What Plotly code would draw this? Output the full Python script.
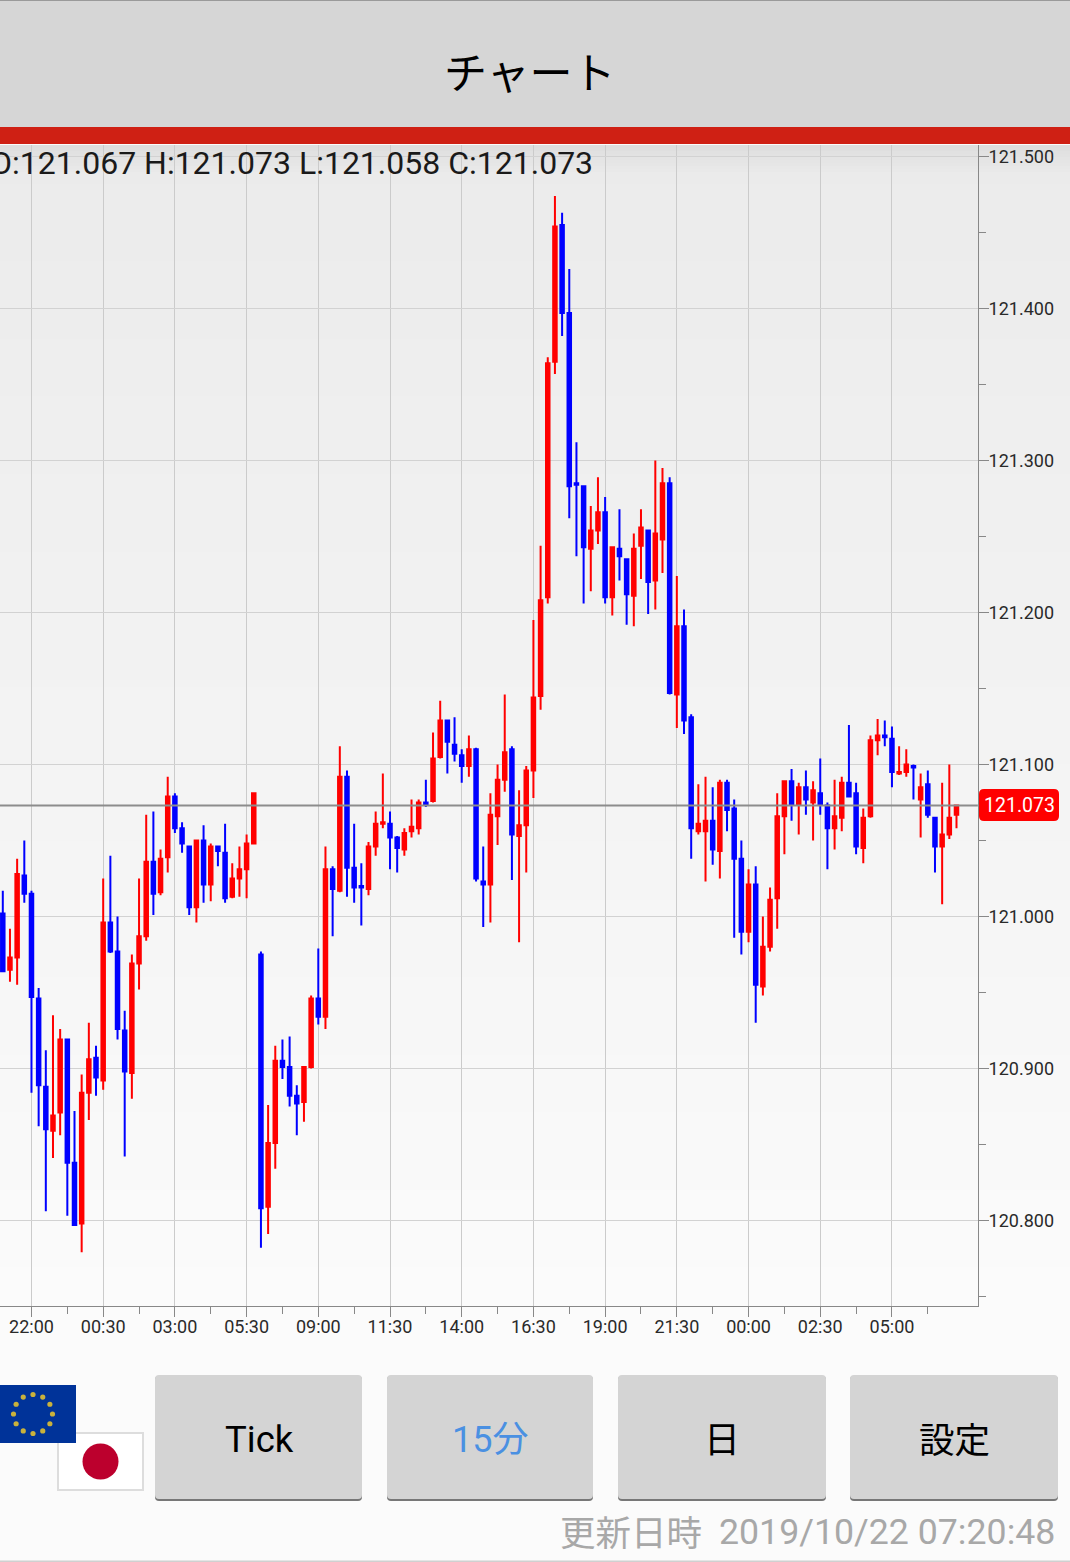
import math

import plotly.graph_objects as go

W = 1070
H = 1562
PLOT_RIGHT = 978
PLOT_TOP = 145
PLOT_BOTTOM = 1306

CJK = "Noto Sans CJK JP"
LATIN = "Roboto"

# 15 minute candles
opens = [
    121.002, 120.965, 120.973, 121.027, 121.015, 120.946, 120.888, 120.859, 120.871, 120.919,
    120.838, 120.798, 120.884, 120.907, 120.892, 120.996, 120.977, 120.925, 120.897, 120.969,
    120.987, 121.036, 121.016, 121.039, 121.079, 121.058, 121.046, 121.006, 121.050, 121.021,
    121.046, 121.042, 121.013, 121.025, 121.031, 121.048, 120.975, 120.809, 120.851, 120.905,
    120.901, 120.882, 120.878, 120.901, 120.946, 120.934, 121.031, 121.017, 121.092, 121.032,
    121.020, 121.018, 121.046, 121.061, 121.061, 121.052, 121.044, 121.056, 121.058, 121.075,
    121.076, 121.105, 121.129, 121.113, 121.106, 121.099, 121.110, 121.023, 121.021, 121.066,
    121.090, 121.110, 121.053, 121.060, 121.096, 121.145, 121.210, 121.365, 121.455, 121.397,
    121.285, 121.283, 121.242, 121.254, 121.266, 121.210, 121.242, 121.235, 121.211, 121.244,
    121.254, 121.221, 121.248, 121.285, 121.146, 121.191, 121.131, 121.056, 121.056, 121.063,
    121.043, 121.088, 121.071, 121.038, 120.990, 121.021, 120.954, 120.980, 121.012, 121.066,
    121.089, 121.074, 121.085, 121.075, 121.081, 121.073, 121.058, 121.065, 121.088, 121.081,
    121.045, 121.066, 121.116, 121.119, 121.117, 121.094, 121.095, 121.099, 121.077, 121.087,
    121.065, 121.046, 121.054, 121.067,
]
highs = [
    121.017, 120.992, 121.038, 121.050, 121.017, 120.953, 120.912, 120.935, 120.926, 120.919,
    120.872, 120.896, 120.930, 120.915, 121.025, 121.040, 121.000, 120.938, 120.975, 121.025,
    121.067, 121.069, 121.044, 121.092, 121.081, 121.062, 121.046, 121.050, 121.060, 121.048,
    121.046, 121.061, 121.035, 121.046, 121.054, 121.081, 120.977, 120.876, 120.915, 120.919,
    120.921, 120.889, 120.901, 120.948, 120.979, 121.046, 121.033, 121.112, 121.096, 121.061,
    121.035, 121.049, 121.069, 121.094, 121.069, 121.053, 121.058, 121.077, 121.077, 121.090,
    121.121, 121.142, 121.129, 121.131, 121.110, 121.119, 121.111, 121.046, 121.081, 121.100,
    121.146, 121.112, 121.083, 121.099, 121.195, 121.244, 121.368, 121.474, 121.463, 121.426,
    121.312, 121.283, 121.270, 121.289, 121.276, 121.243, 121.268, 121.235, 121.252, 121.268,
    121.254, 121.300, 121.295, 121.289, 121.224, 121.202, 121.133, 121.087, 121.092, 121.085,
    121.090, 121.090, 121.077, 121.050, 121.031, 121.033, 121.000, 121.019, 121.081, 121.089,
    121.097, 121.088, 121.096, 121.089, 121.104, 121.075, 121.090, 121.092, 121.126, 121.088,
    121.071, 121.119, 121.130, 121.129, 121.125, 121.112, 121.110, 121.100, 121.094, 121.096,
    121.065, 121.088, 121.100, 121.073,
]
lows = [
    120.964, 120.957, 120.955, 121.009, 120.884, 120.862, 120.806, 120.841, 120.856, 120.803,
    120.797, 120.779, 120.866, 120.882, 120.886, 120.976, 120.919, 120.842, 120.880, 120.952,
    120.984, 121.001, 121.014, 121.029, 121.055, 121.042, 121.001, 120.996, 121.009, 121.010,
    121.033, 121.009, 121.012, 121.013, 121.012, 121.048, 120.782, 120.791, 120.834, 120.893,
    120.875, 120.856, 120.865, 120.900, 120.929, 120.926, 120.987, 121.016, 121.013, 121.009,
    120.994, 121.014, 121.040, 121.058, 121.031, 121.029, 121.040, 121.052, 121.054, 121.072,
    121.075, 121.104, 121.094, 121.102, 121.088, 121.092, 121.023, 120.993, 120.996, 121.047,
    121.082, 121.024, 120.983, 121.029, 121.078, 121.136, 121.206, 121.357, 121.382, 121.262,
    121.237, 121.206, 121.214, 121.245, 121.206, 121.198, 121.221, 121.192, 121.191, 121.222,
    121.199, 121.202, 121.226, 121.146, 121.124, 121.120, 121.038, 121.054, 121.023, 121.034,
    121.025, 121.056, 120.986, 120.975, 120.983, 120.930, 120.948, 120.977, 120.992, 121.041,
    121.063, 121.054, 121.067, 121.050, 121.067, 121.031, 121.044, 121.056, 121.079, 121.041,
    121.035, 121.065, 121.106, 121.112, 121.085, 121.093, 121.092, 121.077, 121.052, 121.065,
    121.029, 121.008, 121.051, 121.058,
]
closes = [
    120.964, 120.973, 121.028, 121.015, 120.947, 120.889, 120.860, 120.869, 120.919, 120.838,
    120.797, 120.884, 120.906, 120.894, 120.996, 120.977, 120.926, 120.898, 120.969, 120.987,
    121.036, 121.015, 121.038, 121.079, 121.058, 121.048, 121.006, 121.050, 121.021, 121.046,
    121.043, 121.012, 121.025, 121.031, 121.048, 121.081, 120.808, 120.851, 120.905, 120.901,
    120.882, 120.877, 120.901, 120.946, 120.934, 121.031, 121.018, 121.092, 121.032, 121.019,
    121.019, 121.046, 121.061, 121.062, 121.052, 121.045, 121.055, 121.059, 121.075, 121.074,
    121.104, 121.129, 121.115, 121.107, 121.099, 121.110, 121.025, 121.021, 121.067, 121.090,
    121.108, 121.054, 121.060, 121.096, 121.144, 121.208, 121.364, 121.454, 121.397, 121.283,
    121.284, 121.243, 121.254, 121.266, 121.210, 121.243, 121.237, 121.212, 121.242, 121.256,
    121.220, 121.252, 121.285, 121.147, 121.191, 121.129, 121.058, 121.061, 121.063, 121.044,
    121.088, 121.070, 121.038, 120.990, 121.021, 120.955, 120.980, 121.011, 121.066, 121.089,
    121.074, 121.085, 121.077, 121.083, 121.074, 121.058, 121.066, 121.088, 121.079, 121.046,
    121.065, 121.116, 121.119, 121.118, 121.095, 121.095, 121.100, 121.098, 121.085, 121.067,
    121.046, 121.054, 121.065, 121.073,
]

time_ticks = [4, 14, 24, 34, 44, 54, 64, 74, 84, 94, 104, 114, 124]
time_labels = ["22:00", "00:30", "03:00", "05:30", "09:00", "11:30", "14:00",
               "16:30", "19:00", "21:30", "00:00", "02:30", "05:00"]
half_ticks = [9, 19, 29, 39, 49, 59, 69, 79, 89, 99, 109, 119, 129]

last_price = 121.073
ohlc_text = "O:121.067 H:121.073 L:121.058 C:121.073"


def px(x):
    return x / W


def py(y):
    return 1 - y / H


def rect(x0, y0, x1, y1, color, layer="above", line=None):
    return dict(type="rect", xref="paper", yref="paper", layer=layer,
                x0=px(x0), x1=px(x1), y0=py(y0), y1=py(y1),
                fillcolor=color, line=line or dict(width=0))


def round_rect(x0, y0, x1, y1, r, color):
    # rounded box as svg path, paper coords
    path = (
        f"M {px(x0 + r)} {py(y0)} L {px(x1 - r)} {py(y0)} Q {px(x1)} {py(y0)} {px(x1)} {py(y0 + r)} "
        f"L {px(x1)} {py(y1 - r)} Q {px(x1)} {py(y1)} {px(x1 - r)} {py(y1)} "
        f"L {px(x0 + r)} {py(y1)} Q {px(x0)} {py(y1)} {px(x0)} {py(y1 - r)} "
        f"L {px(x0)} {py(y0 + r)} Q {px(x0)} {py(y0)} {px(x0 + r)} {py(y0)} Z"
    )
    return dict(type="path", xref="paper", yref="paper", path=path,
                fillcolor=color, line=dict(width=0), layer="above")


def circle(cx, cy, r, color):
    return dict(type="circle", xref="paper", yref="paper", layer="above",
                x0=px(cx - r), x1=px(cx + r), y0=py(cy + r), y1=py(cy - r),
                fillcolor=color, line=dict(width=0))


def label(x, y, text, size, color="#000000", family=LATIN, anchor="center"):
    return dict(xref="paper", yref="paper", x=px(x), y=py(y), text=text, showarrow=False,
                xanchor=anchor, yanchor="middle", font=dict(size=size, color=color, family=family))


shapes = []

# page background gets lighter towards the bottom
top_shade = 235
bottom_shade = 251
steps = 60
for k in range(steps):
    y0 = PLOT_TOP + k * (PLOT_BOTTOM - PLOT_TOP) / steps
    y1 = y0 + (PLOT_BOTTOM - PLOT_TOP) / steps + 1
    c = round(top_shade + (bottom_shade - top_shade) * k / (steps - 1))
    shapes.append(rect(0, y0, W, y1, f"rgb({c},{c},{c})", layer="below"))

# shadow under the red bar
for k in range(10):
    c = round(222 + k * 1.4)
    shapes.append(rect(0, 145 + k * 3, W, 148 + k * 3, f"rgb({c},{c},{c})", layer="below"))

# header
shapes.append(rect(0, 0, W, 127, "#d6d6d6"))
shapes.append(rect(0, 0, W, 1, "#9a9a9a"))
shapes.append(rect(0, 127, W, 144, "#cf2014"))
shapes.append(rect(0, 1560.5, W, H, "#d0d0d0"))

# last price line and its red tag
shapes.append(dict(type="line", xref="x", yref="y", x0=-0.418, x1=135.98,
                   y0=last_price, y1=last_price, line=dict(color="#8c8c8c", width=2), layer="above"))
shapes.append(round_rect(979, 789, 1059, 821, 5, "#ff0000"))

# flags
shapes.append(rect(58, 1433, 143, 1490, "#ffffff", line=dict(color="#dddddd", width=2)))
shapes.append(circle(100.5, 1461.5, 18, "#bc002d"))
shapes.append(rect(0, 1385, 76, 1443, "#003399"))
for k in range(12):
    a = math.radians(k * 30)
    shapes.append(circle(33 + 19.5 * math.sin(a), 1414 - 19.5 * math.cos(a), 2.6, "#c9b23c"))

# buttons
buttons = [(155, 362), (387, 593), (618, 826), (850, 1058)]
for x0, x1 in buttons:
    shapes.append(round_rect(x0, 1376, x1, 1501, 4, "#777777"))
    shapes.append(round_rect(x0, 1375, x1, 1499, 4, "#d4d4d4"))

annotations = [
    label(529.5, 70, "チャート", 43, family=CJK),
    label(595, 163, ohlc_text, 32, color="#1a1a1a", anchor="right"),
    label(1019, 805, "121.073", 19.5, color="#ffffff"),
    label(259, 1439, "Tick", 36.5),
    label(489.5, 1440, "15分", 36, color="#4a90e2", family=f"{LATIN}, {CJK}"),
    label(722, 1437, "日", 36, family=CJK),
    label(954, 1437, "設定", 35.5, family=CJK),
    label(704, 1530, "更新日時", 35.5, color="#a8a8a8", family=CJK, anchor="right"),
    label(1057, 1532, "2019/10/22 07:20:48", 35.7, color="#a8a8a8", anchor="right"),
]

fig = go.Figure(
    go.Candlestick(
        x=list(range(len(opens))),
        open=opens,
        high=highs,
        low=lows,
        close=closes,
        increasing=dict(line=dict(color="#ff0000", width=2), fillcolor="#ff0000"),
        decreasing=dict(line=dict(color="#0000ff", width=2), fillcolor="#0000ff"),
        whiskerwidth=0,
        showlegend=False,
        hoverinfo="skip",
    )
)

fig.update_layout(
    width=W,
    height=H,
    margin=dict(l=0, r=0, t=0, b=0),
    paper_bgcolor="#fbfbfb",
    plot_bgcolor="rgba(0,0,0,0)",
    showlegend=False,
    shapes=shapes,
    annotations=annotations,
    font=dict(family=LATIN, color="#333333"),
    xaxis=dict(
        domain=[0, PLOT_RIGHT / W],
        range=[-0.39, 136.0],
        rangeslider=dict(visible=False),
        tickmode="array",
        tickvals=time_ticks,
        ticktext=time_labels,
        tickfont=dict(size=18, color="#2a2a2a"),
        ticks="outside",
        ticklen=10,
        tickcolor="#888888",
        tickwidth=1,
        ticklabelstandoff=-6,
        showgrid=True,
        gridcolor="#cbcbcb",
        gridwidth=1.2,
        showline=True,
        linecolor="#888888",
        linewidth=1,
        zeroline=False,
        minor=dict(tickmode="array", tickvals=half_ticks, ticks="outside", ticklen=7,
                   tickcolor="#888888", showgrid=False),
    ),
    yaxis=dict(
        domain=[1 - PLOT_BOTTOM / H, 1 - PLOT_TOP / H],
        range=[120.7437, 121.5076],
        side="right",
        dtick=0.1,
        tick0=121,
        tickformat=".3f",
        tickfont=dict(size=18, color="#2a2a2a"),
        ticks="outside",
        ticklen=10,
        tickcolor="#888888",
        tickwidth=1,
        ticklabelstandoff=-4,
        showgrid=True,
        gridcolor="#d2d2d2",
        gridwidth=1,
        showline=True,
        linecolor="#888888",
        linewidth=1,
        zeroline=False,
        minor=dict(tick0=121.05, dtick=0.1, ticks="outside", ticklen=7, tickcolor="#888888", showgrid=False),
    ),
)

# the page margin would push the chart 8px off the window
fig.write_html("out.html", config={"displayModeBar": False},
               post_script="document.body.style.margin='0';")
